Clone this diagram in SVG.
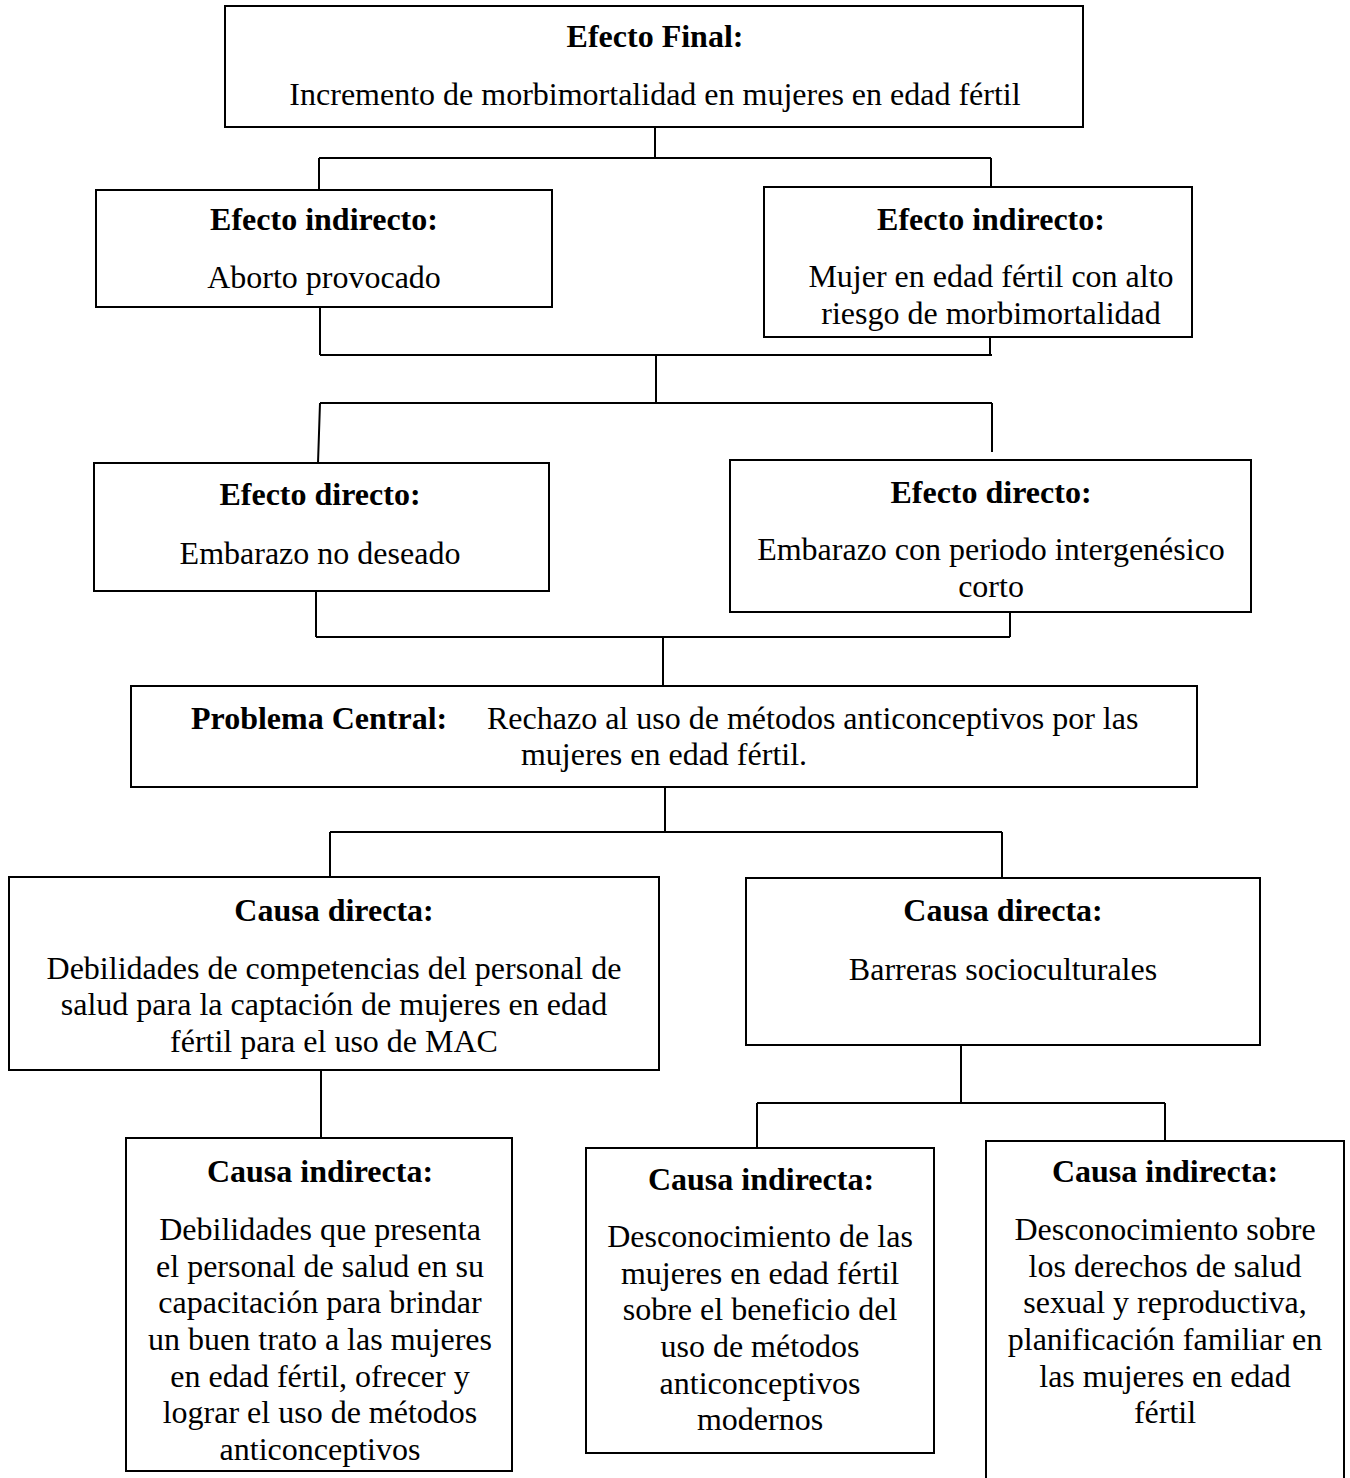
<svg xmlns="http://www.w3.org/2000/svg" width="1350" height="1478" viewBox="0 0 1350 1478">
<style>
  .box { fill: #ffffff; stroke: #000000; stroke-width: 2; }
  .con { fill: none; stroke: #000000; stroke-width: 2; }
  text { font-family: "Liberation Serif", "Times New Roman", serif; font-size: 32px; fill: #000000; }
  .c { text-anchor: middle; }
  .b { font-weight: bold; }
</style>
<rect width="1350" height="1478" fill="#ffffff"/>
<g id="connectors">
  <path class="con" d="M655,127 V158 M319,158 H991 M319,158 V190 M991,158 V187"/>
  <path class="con" d="M320,307 V355 M990,337 V355 M320,355 H992 M656,355 V403 M320,403 H992 M320,403 L318,463 M992,403 V452"/>
  <path class="con" d="M316,591 V637 M1010,612 V637 M316,637 H1010 M663,637 V686"/>
  <path class="con" d="M665,787 V832 M330,832 H1002 M330,832 V877 M1002,832 V878"/>
  <path class="con" d="M321,1070 V1138"/>
  <path class="con" d="M961,1045 V1103 M757,1103 H1165 M757,1103 V1148 M1165,1103 V1141"/>
</g>
<g id="efecto-final">
  <rect class="box" x="225" y="6" width="858" height="121"/>
  <text class="c b" x="655" y="47">Efecto Final:</text>
  <text class="c" x="655" y="105">Incremento de morbimortalidad en mujeres en edad fértil</text>
</g>
<g id="efecto-indirecto-1">
  <rect class="box" x="96" y="190" width="456" height="117"/>
  <text class="c b" x="324" y="230">Efecto indirecto:</text>
  <text class="c" x="324" y="288">Aborto provocado</text>
</g>
<g id="efecto-indirecto-2">
  <rect class="box" x="764" y="187" width="428" height="150"/>
  <text class="c b" x="991" y="230">Efecto indirecto:</text>
  <text class="c" x="991" y="287">Mujer en edad fértil con alto</text>
  <text class="c" x="991" y="324">riesgo de morbimortalidad</text>
</g>
<g id="efecto-directo-1">
  <rect class="box" x="94" y="463" width="455" height="128"/>
  <text class="c b" x="320" y="505">Efecto directo:</text>
  <text class="c" x="320" y="564">Embarazo no deseado</text>
</g>
<g id="efecto-directo-2">
  <rect class="box" x="730" y="460" width="521" height="152"/>
  <text class="c b" x="991" y="503">Efecto directo:</text>
  <text class="c" x="991" y="560">Embarazo con periodo intergenésico</text>
  <text class="c" x="991" y="597">corto</text>
</g>
<g id="problema-central">
  <rect class="box" x="131" y="686" width="1066" height="101"/>
  <text class="b" x="191" y="729">Problema Central:</text>
  <text x="487" y="729">Rechazo al uso de métodos anticonceptivos por las</text>
  <text class="c" x="664" y="765">mujeres en edad fértil.</text>
</g>
<g id="causa-directa-1">
  <rect class="box" x="9" y="877" width="650" height="193"/>
  <text class="c b" x="334" y="921">Causa directa:</text>
  <text class="c" x="334" y="979">Debilidades de competencias del personal de</text>
  <text class="c" x="334" y="1015">salud para la captación de mujeres en edad</text>
  <text class="c" x="334" y="1052">fértil para el uso de MAC</text>
</g>
<g id="causa-directa-2">
  <rect class="box" x="746" y="878" width="514" height="167"/>
  <text class="c b" x="1003" y="921">Causa directa:</text>
  <text class="c" x="1003" y="980">Barreras socioculturales</text>
</g>
<g id="causa-indirecta-1">
  <rect class="box" x="126" y="1138" width="386" height="333"/>
  <text class="c b" x="320" y="1182">Causa indirecta:</text>
  <text class="c" x="320" y="1240">Debilidades que presenta</text>
  <text class="c" x="320" y="1277">el personal de salud en su</text>
  <text class="c" x="320" y="1313">capacitación para brindar</text>
  <text class="c" x="320" y="1350">un buen trato a las mujeres</text>
  <text class="c" x="320" y="1387">en edad fértil, ofrecer y</text>
  <text class="c" x="320" y="1423">lograr el uso de métodos</text>
  <text class="c" x="320" y="1460">anticonceptivos</text>
</g>
<g id="causa-indirecta-2">
  <rect class="box" x="586" y="1148" width="348" height="305"/>
  <text class="c b" x="761" y="1190">Causa indirecta:</text>
  <text class="c" x="760" y="1247">Desconocimiento de las</text>
  <text class="c" x="760" y="1284">mujeres en edad fértil</text>
  <text class="c" x="760" y="1320">sobre el beneficio del</text>
  <text class="c" x="760" y="1357">uso de métodos</text>
  <text class="c" x="760" y="1394">anticonceptivos</text>
  <text class="c" x="760" y="1430">modernos</text>
</g>
<g id="causa-indirecta-3">
  <rect class="box" x="986" y="1141" width="358" height="360"/>
  <text class="c b" x="1165" y="1182">Causa indirecta:</text>
  <text class="c" x="1165" y="1240">Desconocimiento sobre</text>
  <text class="c" x="1165" y="1277">los derechos de salud</text>
  <text class="c" x="1165" y="1313">sexual y reproductiva,</text>
  <text class="c" x="1165" y="1350">planificación familiar en</text>
  <text class="c" x="1165" y="1387">las mujeres en edad</text>
  <text class="c" x="1165" y="1423">fértil</text>
</g>
</svg>
